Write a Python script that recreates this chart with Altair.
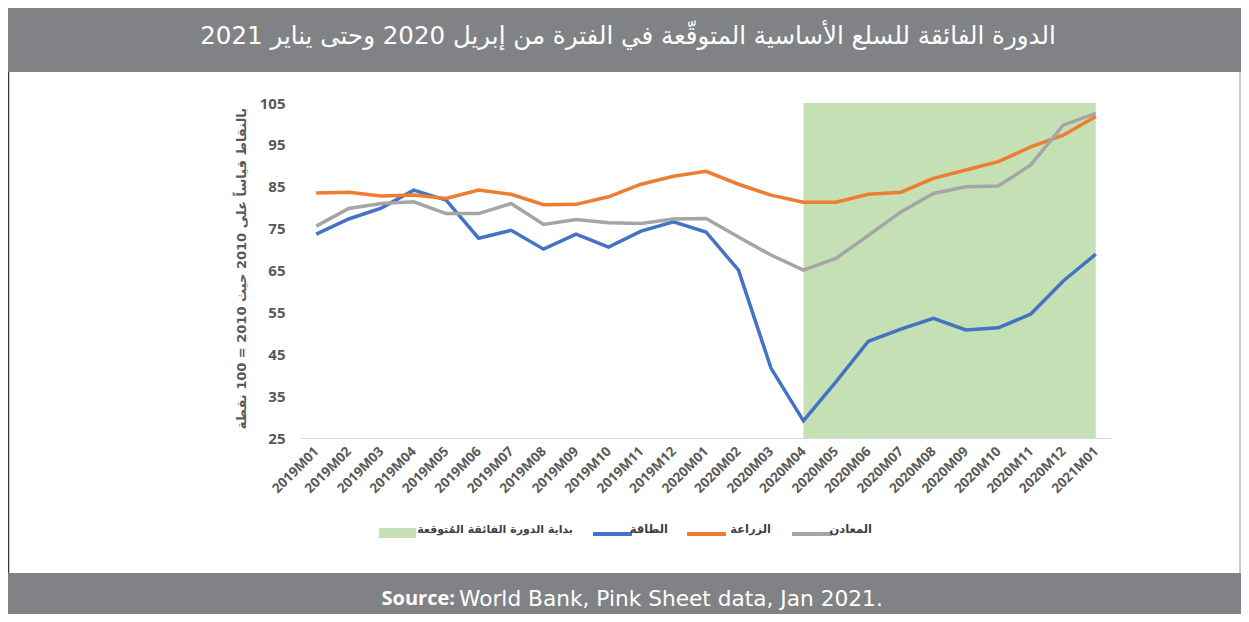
import altair as alt
import pandas as pd

months = ["2019M01", "2019M02", "2019M03", "2019M04", "2019M05", "2019M06",
          "2019M07", "2019M08", "2019M09", "2019M10", "2019M11", "2019M12",
          "2020M01", "2020M02", "2020M03", "2020M04", "2020M05", "2020M06",
          "2020M07", "2020M08", "2020M09", "2020M10", "2020M11", "2020M12",
          "2021M01"]

energy = [73.7, 77.3, 79.9, 84.2, 81.8, 72.7, 74.6, 70.1, 73.7, 70.6, 74.4, 76.6,
          74.2, 65.1, 41.7, 29.1, 38.4, 48.1, 51.0, 53.6, 50.8, 51.3, 54.6, 62.5, 68.9]
agriculture = [83.5, 83.7, 82.8, 83.0, 82.2, 84.2, 83.2, 80.7, 80.8, 82.6, 85.6, 87.5,
               88.7, 85.6, 83.0, 81.3, 81.3, 83.2, 83.7, 87.0, 89.0, 91.0, 94.5, 97.3, 101.8]
metals = [75.6, 79.8, 81.0, 81.4, 78.6, 78.6, 81.0, 76.0, 77.2, 76.4, 76.2, 77.3,
          77.4, 73.0, 68.7, 65.1, 67.9, 73.4, 79.0, 83.4, 85.0, 85.2, 90.2, 99.7, 102.5]

series_names = ["الطاقة", "الزراعة", "المعادن"]
series_colors = ["#4472C4", "#ED7D31", "#A5A5A5"]
band_label = "بداية الدورة الفائقة المُتوقعة"
band_start, band_end = "2020M04", "2021M01"
y_ticks = [25, 35, 45, 55, 65, 75, 85, 95, 105]

title_text = "الدورة الفائقة للسلع الأساسية المتوقّعة في الفترة من إبريل 2020 وحتى يناير 2021"
y_title = "بالنقاط قياساً على 2010 حيث 2010 = 100 نقطة"
source_bold = "Source:"
source_rest = "World Bank, Pink Sheet data, Jan 2021."

rows = []
for name, vals in zip(series_names, [energy, agriculture, metals]):
    for m, v in zip(months, vals):
        rows.append({"month": m, "value": v, "series": name})
df = pd.DataFrame(rows)

band_df = pd.DataFrame({"start": [band_start], "end": [band_end],
                        "top": [y_ticks[-1]], "bottom": [y_ticks[0]]})

W, H = 812, 335
PL, PT, PR, PB = 292, 95, 129, 176
BAR = "#818285"
ARABIC = "DejaVu Sans"

xscale = alt.Scale(type="point", domain=months, padding=0.5)
yscale = alt.Scale(domain=[25, 105], nice=False, zero=False)

band = alt.Chart(band_df).mark_rect(color="#C5E0B4").encode(
    x=alt.X("start:N", scale=xscale, title=None),
    x2="end:N",
    y=alt.Y("top:Q", scale=yscale),
    y2="bottom:Q",
)

lines = alt.Chart(df).mark_line(strokeWidth=3.5).encode(
    x=alt.X("month:N", scale=xscale, sort=months,
            axis=alt.Axis(title=None, labelAngle=-45, labelFont="Open Sans",
                          labelFontWeight="bold", labelFontSize=13.5, labelColor="#595959",
                          ticks=False, domainColor="#D9D9D9", domainWidth=1.2,
                          labelPadding=11, grid=False)),
    y=alt.Y("value:Q", scale=yscale,
            axis=alt.Axis(values=y_ticks, title=y_title, grid=False, domain=False,
                          ticks=False, labelFont="Open Sans", labelFontWeight="bold",
                          labelFontSize=15, labelColor="#595959", labelPadding=15,
                          titleFont=ARABIC, titleFontWeight="bold", titleFontSize=13,
                          titleColor="#595959", titleAngle=270, titleX=-59, titleY=165,
                          titleAlign="center", titleBaseline="middle")),
    color=alt.Color("series:N", scale=alt.Scale(domain=series_names, range=series_colors),
                    legend=None),
    detail="series:N",
)

one = pd.DataFrame({"k": [0]})


def rect(x, x2, y, y2, color):
    return alt.Chart(one).mark_rect(color=color).encode(
        x=alt.value(x), x2=alt.value(x2), y=alt.value(y), y2=alt.value(y2))


def rule(x, x2, y, y2, color, w):
    return alt.Chart(one).mark_rule(color=color, strokeWidth=w).encode(
        x=alt.value(x), x2=alt.value(x2), y=alt.value(y), y2=alt.value(y2))


def text(s, x, y, size, color, font, weight="normal", align="left"):
    return alt.Chart(one).mark_text(fontSize=size, color=color, font=font,
                                    fontWeight=weight, align=align,
                                    baseline="middle").encode(
        x=alt.value(x), y=alt.value(y), text=alt.value(s))


deco = [
    rect(-PL, W + PR, -PT, -31, BAR),
    rect(-PL, W + PR, 470, H + PB, BAR),
    rule(-PL + 0.5, -PL + 0.5, -31, 470, "#3a3a3a", 1.5),
    rule(W + PR - 1, W + PR - 1, -31, 470, "#9a9a9a", 1),
    text(title_text, 328, -66, 24.5, "white", ARABIC, align="center"),
    text(source_bold, 155, 496, 20, "white", "Open Sans", weight="bold", align="right"),
    text(source_rest, 159, 496, 21.7, "white", "DejaVu Sans"),
    # legend
    rect(79, 116, 425, 435, "#C5E0B4"),
    text(band_label, 273, 427, 11, "#404040", ARABIC, weight="bold", align="right"),
    rule(293, 332, 431, 431, series_colors[0], 4),
    text(series_names[0], 368, 427, 11.5, "#404040", ARABIC, weight="bold", align="right"),
    rule(387, 426, 431, 431, series_colors[1], 4),
    text(series_names[1], 471, 427, 11.5, "#404040", ARABIC, weight="bold", align="right"),
    rule(492, 532, 431, 431, series_colors[2], 4),
    text(series_names[2], 572, 427, 11.5, "#404040", ARABIC, weight="bold", align="right"),
]

chart = alt.layer(band, lines, *deco).properties(
    width=W, height=H,
    padding={"left": PL, "top": PT, "right": PR, "bottom": PB},
    autosize=alt.AutoSizeParams(type="none"),
    background="white",
).configure_view(stroke=None)

chart.save("out.html", embed_options={"renderer": "svg", "actions": False})
